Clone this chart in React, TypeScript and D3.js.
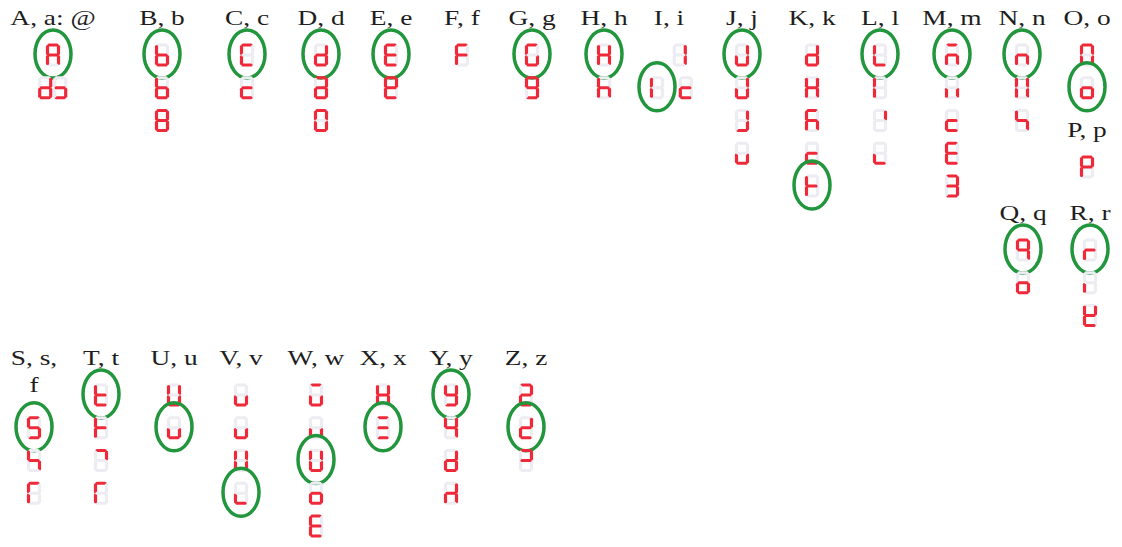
import * as d3 from "d3";

const W = 1122;
const H = 547;

const LETTERS = "ABCDEFGHIJKLMNOPQRSTUVWXYZ".split("");
const LABELS = [
  "A, a: @", "B, b", "C, c", "D, d", "E, e", "F, f", "G, g", "H, h", "I, i",
  "J, j", "K, k", "L, l", "M, m", "N, n", "O, o", "P, p", "Q, q", "R, r",
  "S, s,\nf", "T, t", "U, u", "V, v", "W, w", "X, x", "Y, y", "Z, z",
];

// each glyph: letter, slot under the label, lit segments (a-g), circled, side shift
type Glyph = [string, number, string, boolean?, number?];
const GLYPHS: Glyph[] = [
  ["A", 0, "abcefg", true], ["A", 1, "bcdeg", false, -0.65], ["A", 1, "cdg", false, 0.6],
  ["B", 0, "cdefg", true], ["B", 1, "cdefg"], ["B", 2, "abcdefg"],
  ["C", 0, "adef", true], ["C", 1, "deg"],
  ["D", 0, "bcdeg", true], ["D", 1, "abcdeg"], ["D", 2, "abcdef"],
  ["E", 0, "adefg", true], ["E", 1, "abdefg"],
  ["F", 0, "aefg"],
  ["G", 0, "acdef", true], ["G", 1, "abcdfg"],
  ["H", 0, "bcefg", true], ["H", 1, "cefg"],
  ["I", 0, "bc", false, 0.9], ["I", 1, "ef", true, -1], ["I", 1, "deg", false, 1.4],
  ["J", 0, "bcde", true], ["J", 1, "bcde"], ["J", 2, "bcd"], ["J", 3, "cde"],
  ["K", 0, "bcdeg"], ["K", 1, "bcefg"], ["K", 2, "acefg"], ["K", 3, "deg"], ["K", 4, "efg", true],
  ["L", 0, "def", true], ["L", 1, "ef"], ["L", 2, "b"], ["L", 3, "de"],
  ["M", 0, "aceg", true], ["M", 1, "ce"], ["M", 2, "deg"], ["M", 3, "adefg"], ["M", 4, "abcdg"],
  ["N", 0, "ceg", true], ["N", 1, "bcef"], ["N", 2, "cfg"],
  ["O", 0, "abcef"], ["O", 1, "cdeg", true],
  ["P", 0, "abefg"],
  ["Q", 0, "abcfg", true], ["Q", 1, "cdeg"],
  ["R", 0, "eg", true], ["R", 1, "e"], ["R", 2, "bdefg"],
  ["S", 1, "acdfg", true], ["S", 2, "cfg"], ["S", 3, "aef"],
  ["T", 0, "defg", true], ["T", 1, "efg"], ["T", 2, "ab"], ["T", 3, "aef"],
  ["U", 0, "bcdef"], ["U", 1, "cde", true],
  ["V", 0, "cde"], ["V", 1, "cde"], ["V", 2, "bcef"], ["V", 3, "de", true],
  ["W", 0, "acde"], ["W", 1, "ce"], ["W", 2, "bcdef", true], ["W", 3, "cdeg"], ["W", 4, "adefg"],
  ["X", 0, "bcefg"], ["X", 1, "adg", true],
  ["Y", 0, "bcdfg", true], ["Y", 1, "bcfg"], ["Y", 2, "bcdeg"], ["Y", 3, "bceg"],
  ["Z", 0, "abdeg"], ["Z", 1, "bdeg", true], ["Z", 2, "abg"],
];

// layout: column centre and label baseline for each letter
const COL_X = [53, 162, 247, 321, 391, 462, 532, 604, 669, 742, 812, 880, 952, 1022, 1087,
  1087, 1023, 1090, 34, 101, 174, 241, 316, 383, 451, 526];
const COL_BASE = [25, 25, 25, 25, 25, 25, 25, 25, 25, 25, 25, 25, 25, 25, 25,
  137, 220, 220, 365, 365, 365, 365, 365, 365, 365, 365];

const RED = "#ee2a3a";
const GHOST = "#ececf2";
const GREEN = "#22963c";

const hw = 5.5;
const hh = 10;
const SEG: Record<string, [number, number, number, number]> = {
  a: [-hw + 1.5, -hh, hw - 1.5, -hh],
  b: [hw, -hh + 1.5, hw, -1.5],
  c: [hw, 1.5, hw, hh - 1.5],
  d: [-hw + 1.5, hh, hw - 1.5, hh],
  e: [-hw, 1.5, -hw, hh - 1.5],
  f: [-hw, -hh + 1.5, -hw, -1.5],
  g: [-hw + 1.5, 0, hw - 1.5, 0],
};

export default function App() {
  const x = d3.scaleOrdinal<string, number>().domain(LETTERS).range(COL_X);
  const base = d3.scaleOrdinal<string, number>().domain(LETTERS).range(COL_BASE);
  const slotY = d3.scaleLinear().domain([0, 4]).range([30, 161]);
  const side = d3.scaleLinear().domain([-1, 1]).range([-12, 12]);

  return (
    <svg width={W} height={H} style={{ position: "absolute", left: 0, top: 0, background: "#fff" }}>
      <g fontFamily="'Liberation Serif', 'Times New Roman', serif" fontSize={20} fill="#1e1e1e">
        {LETTERS.map((l, i) =>
          LABELS[i].split("\n").map((line, j) => (
            <text
              key={l + j}
              textAnchor="middle"
              transform={`translate(${x(l)},${base(l) + j * 27}) scale(1.37,1)`}
            >
              {line}
            </text>
          ))
        )}
      </g>
      {GLYPHS.map(([l, slot, lit, circled, dx], i) => {
        const cx = x(l) + side(dx ?? 0);
        const cy = base(l) + slotY(slot);
        return (
          <g key={i} transform={`translate(${cx},${cy})`} strokeLinecap="round">
            {Object.keys(SEG).map((s) => {
              const [x1, y1, x2, y2] = SEG[s];
              return (
                <line key={s} x1={x1} y1={y1} x2={x2} y2={y2}
                  stroke={lit.includes(s) ? RED : GHOST} strokeWidth={3.2} />
              );
            })}
            {circled && (
              <ellipse cx={0} cy={-1} rx={18} ry={24} fill="none" stroke={GREEN} strokeWidth={3.5} />
            )}
          </g>
        );
      })}
    </svg>
  );
}
